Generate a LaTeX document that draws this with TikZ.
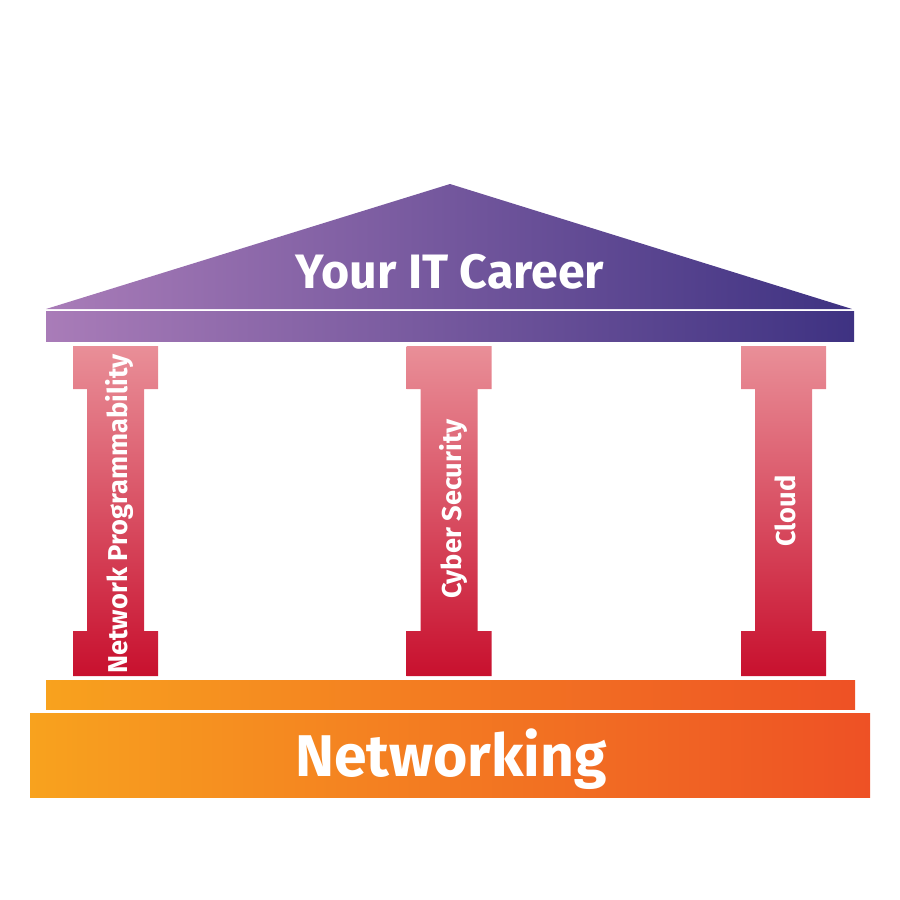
\documentclass[tikz,border=0pt]{standalone}
\usepackage{fontspec}
\setsansfont{Fira Sans}
\definecolor{roofL}{HTML}{A97CB8}
\definecolor{roofR}{HTML}{3E3282}
\definecolor{colT}{HTML}{E98F98}
\definecolor{colB}{HTML}{C8102E}
\definecolor{baseL}{HTML}{F8A21E}
\definecolor{baseR}{HTML}{EE5125}

\begin{document}
\begin{tikzpicture}[x=0.2mm,y=-0.2mm,font=\sffamily\bfseries,
  roofpart/.style={left color=roofL,right color=roofR},
  steppart/.style={left color=baseL,right color=baseR},
  colpart/.style={top color=colT,bottom color=colB},
  label/.style={text=white,inner sep=0pt}]
\useasboundingbox (0,0) rectangle (900,900);
% roof
\shade[roofpart] (46,309)--(450,184)--(852,309)--cycle;
\shade[roofpart] (46,311) rectangle (854,341);
\node[label,anchor=base,font=\sffamily\bfseries\fontsize{27.5}{30}\selectfont] (career) at (450,288) {Your IT Career};
% pillars
\foreach \cx/\cy/\nm/\lbl in {115.5/514/np/Network Programmability,449/509/cs/Cyber Security,783.5/511/cl/Cloud}{
  \shade[colpart] (\cx-42.5,346)--(\cx+42.5,346)--(\cx+42.5,389)--(\cx+28.5,389)--(\cx+28.5,631)--(\cx+42.5,631)
    --(\cx+42.5,676)--(\cx-42.5,676)--(\cx-42.5,631)--(\cx-28.5,631)--(\cx-28.5,389)--(\cx-42.5,389)--cycle;
  \node[label,rotate=90,anchor=base,font=\sffamily\bfseries\fontsize{15.5}{18}\selectfont] (\nm) at (\cx+12,\cy) {\lbl};
}
% base
\shade[steppart] (46,680) rectangle (855,709);
\shade[steppart] (30,713) rectangle (870,797);
\node[label,anchor=base,font=\sffamily\bfseries\fontsize{33.5}{36}\selectfont] (net) at (451,776) {Networking};
\end{tikzpicture}
\end{document}
